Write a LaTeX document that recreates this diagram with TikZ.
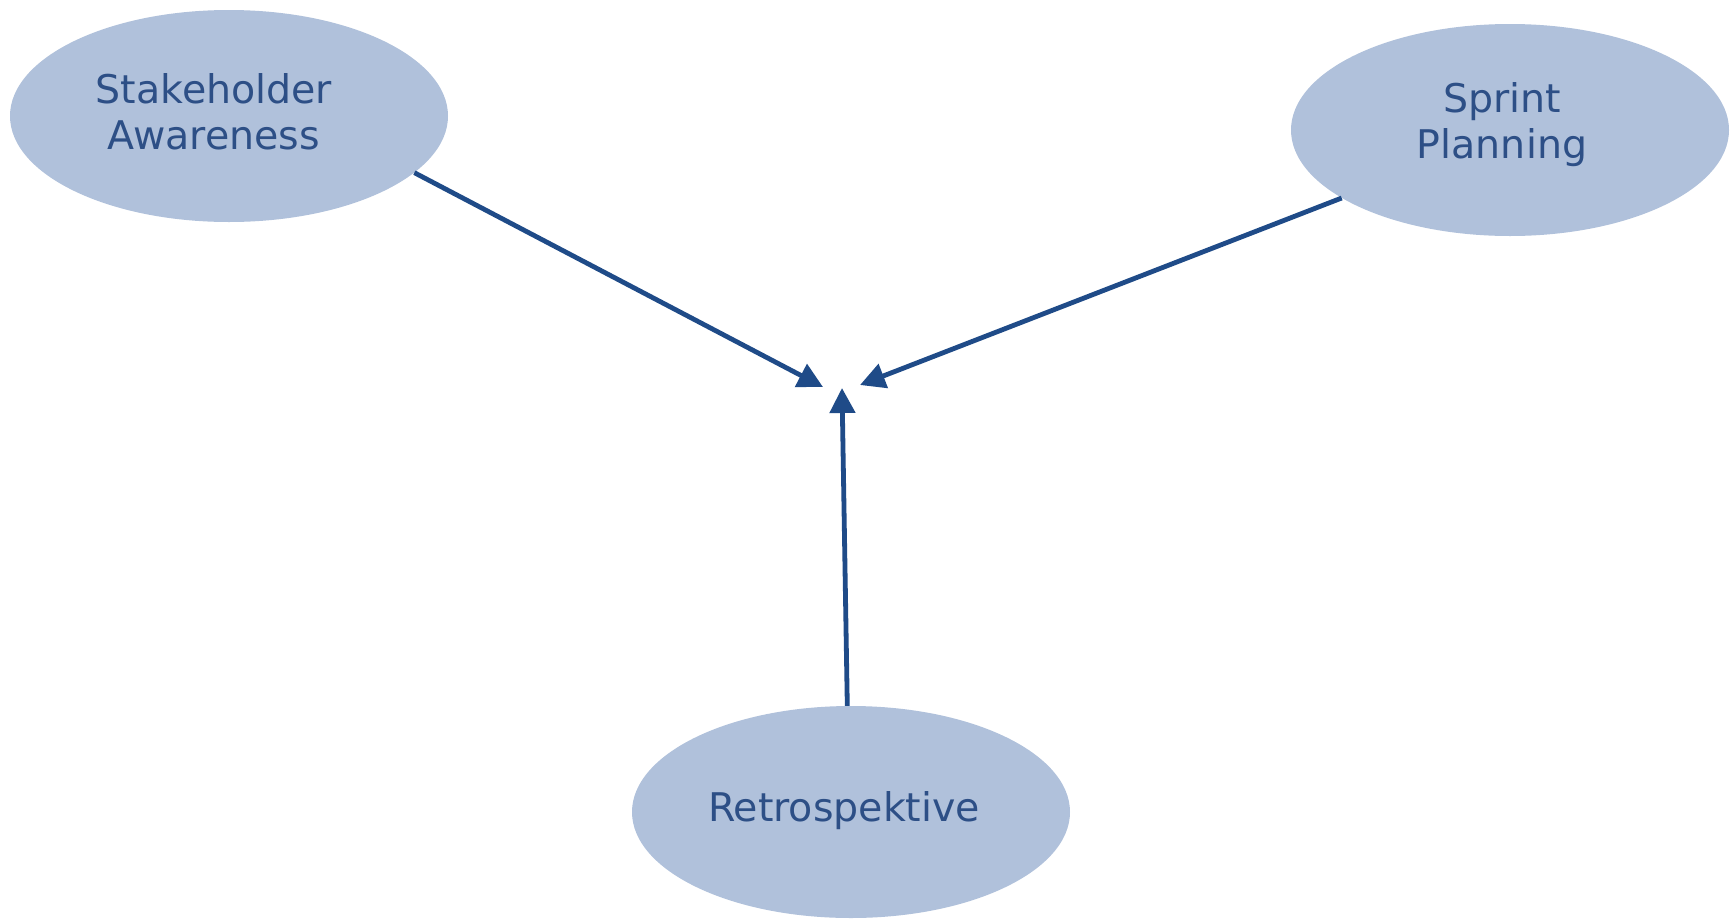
\documentclass[tikz,border=0pt]{standalone}
\usepackage{fontspec}
\setmainfont{DejaVu Sans}
\usetikzlibrary{shapes.geometric,arrows.meta}
\definecolor{ellfill}{HTML}{B0C1DB}
\definecolor{txtblue}{HTML}{2D4F86}
\definecolor{arrblue}{HTML}{1F4B88}
\tikzset{
  blob/.style={ellipse, fill=ellfill, draw=none, minimum width=438pt, minimum height=212pt, inner sep=0pt},
  lbl/.style={text=txtblue, font=\fontsize{39.5pt}{46pt}\selectfont, align=center, inner sep=0pt},
  conn/.style={draw=arrblue, line width=4.8pt, -{Triangle[length=25pt,width=25pt]}}
}
\begin{document}
\begin{tikzpicture}[x=1pt,y=-1pt]
\useasboundingbox (0,0) rectangle (1730,919);
\fill[white] (0,0) rectangle (1730,919);
\node[blob] (st) at (229,116) {};
\node[blob] (sp) at (1510,130) {};
\node[blob] (re) at (851,812) {};
\node[lbl] (stl) at (214,112) {Stakeholder\\Awareness};
\node[lbl] (spl) at (1502,125) {Sprint\\Planning};
\node[lbl] (rel) at (844,811) {Retrospektive};
\coordinate (e1) at (823,387);
\coordinate (e2) at (860,385);
\coordinate (e3) at (842,388);
\draw[conn] (st.-17) -- (e1);
\draw[conn] (sp.-158.5) -- (e2);
\draw[conn] (re.92) -- (e3);
\end{tikzpicture}
\end{document}
